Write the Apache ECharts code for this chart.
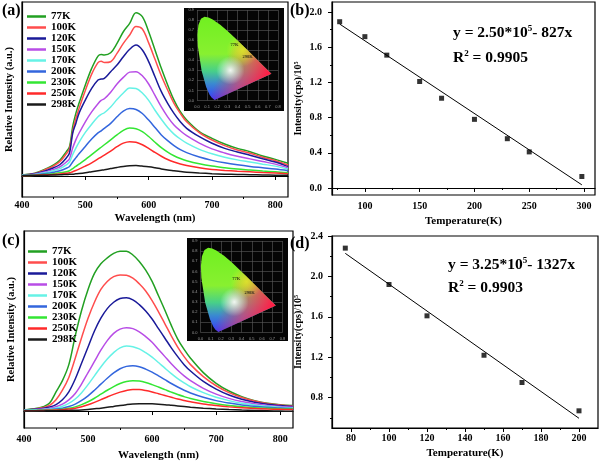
<!DOCTYPE html>
<html><head><meta charset="utf-8">
<script src="https://cdn.jsdelivr.net/npm/echarts@6/dist/echarts.min.js"></script>
<style>html,body{margin:0;padding:0;background:#fff}#c{width:600px;height:463px}</style>
</head><body><div id="c"></div>
<script>
// ---------- data ----------
const temps = ['77K','100K','120K','150K','170K','200K','230K','250K','298K'];
const colors = ['#22a022','#ff4d4d','#1a1a99','#b84de6','#66f2e6','#3366dd','#33e633','#ff2a2a','#1a1a1a'];

// panel (a) spectra
const wlA = [400,420,440,450,460,470,475,480,485,490,500,510,520,525,530,540,550,560,570,580,590,600,610,620,630,640,650,660,680,700,720,740,760,780,800,820];
const a77K  = [0.006,0.016,0.047,0.067,0.097,0.148,0.178,0.30,0.381,0.442,0.554,0.655,0.730,0.740,0.736,0.75,0.807,0.878,0.929,0.994,0.970,0.878,0.767,0.655,0.554,0.462,0.391,0.341,0.27,0.229,0.195,0.168,0.148,0.122,0.101,0.077];
const a100K = [0.006,0.015,0.044,0.062,0.088,0.135,0.165,0.27,0.35,0.41,0.52,0.62,0.69,0.698,0.69,0.695,0.746,0.807,0.858,0.91,0.895,0.81,0.71,0.61,0.523,0.442,0.381,0.33,0.264,0.219,0.185,0.158,0.138,0.114,0.093,0.067];
const a120K = [0.006,0.013,0.035,0.05,0.07,0.11,0.14,0.26,0.32,0.381,0.462,0.533,0.584,0.59,0.594,0.635,0.675,0.726,0.771,0.797,0.767,0.696,0.604,0.513,0.442,0.381,0.33,0.29,0.239,0.199,0.168,0.146,0.126,0.105,0.085,0.057];
const a150K = [0.005,0.011,0.028,0.04,0.056,0.085,0.105,0.17,0.22,0.26,0.33,0.39,0.44,0.46,0.47,0.51,0.56,0.60,0.632,0.635,0.61,0.56,0.49,0.42,0.36,0.31,0.275,0.245,0.2,0.165,0.14,0.12,0.104,0.088,0.072,0.05];
const a170K = [0.004,0.009,0.022,0.032,0.045,0.068,0.085,0.13,0.17,0.205,0.265,0.315,0.36,0.375,0.385,0.42,0.465,0.505,0.535,0.532,0.505,0.46,0.40,0.345,0.295,0.255,0.225,0.2,0.162,0.135,0.114,0.098,0.085,0.072,0.06,0.042];
const a200K = [0.003,0.007,0.016,0.023,0.032,0.047,0.058,0.085,0.11,0.135,0.18,0.225,0.262,0.275,0.29,0.32,0.36,0.395,0.41,0.405,0.38,0.34,0.295,0.25,0.215,0.185,0.16,0.142,0.115,0.095,0.08,0.068,0.058,0.05,0.042,0.032];
const a230K = [0.003,0.005,0.01,0.014,0.019,0.026,0.032,0.045,0.058,0.072,0.10,0.13,0.16,0.175,0.19,0.22,0.25,0.278,0.292,0.288,0.27,0.24,0.205,0.172,0.145,0.123,0.106,0.093,0.074,0.06,0.05,0.042,0.036,0.03,0.025,0.02];
const a250K = [0.002,0.004,0.007,0.009,0.012,0.016,0.019,0.026,0.033,0.042,0.06,0.08,0.104,0.115,0.127,0.152,0.178,0.2,0.209,0.205,0.19,0.168,0.143,0.12,0.1,0.085,0.073,0.064,0.05,0.04,0.034,0.029,0.025,0.021,0.018,0.014];
const a298K = [0.002,0.003,0.005,0.006,0.007,0.009,0.01,0.011,0.013,0.015,0.02,0.026,0.032,0.035,0.038,0.045,0.052,0.058,0.062,0.063,0.06,0.056,0.05,0.043,0.037,0.032,0.027,0.023,0.018,0.014,0.011,0.009,0.008,0.006,0.005,0.004];

// panel (c) spectra
const wlC = [400,420,430,440,450,460,470,480,490,500,510,520,530,540,550,560,570,580,590,600,610,620,630,640,650,660,680,700,720,740,760,780,800,820];
const c77K  = [0.006,0.017,0.027,0.05,0.12,0.19,0.29,0.47,0.63,0.76,0.86,0.92,0.957,0.985,0.998,0.999,0.975,0.935,0.88,0.81,0.72,0.63,0.535,0.45,0.385,0.33,0.24,0.173,0.125,0.09,0.065,0.048,0.04,0.035];
const c100K = [0.006,0.015,0.022,0.035,0.07,0.13,0.21,0.33,0.46,0.58,0.68,0.76,0.81,0.84,0.85,0.848,0.83,0.795,0.75,0.69,0.62,0.545,0.47,0.40,0.34,0.29,0.215,0.158,0.115,0.085,0.063,0.047,0.038,0.032];
const c120K = [0.005,0.012,0.017,0.025,0.04,0.07,0.12,0.2,0.3,0.4,0.5,0.58,0.64,0.68,0.703,0.708,0.695,0.665,0.625,0.575,0.515,0.455,0.395,0.34,0.29,0.25,0.185,0.137,0.1,0.074,0.055,0.042,0.034,0.028];
const c150K = [0.005,0.01,0.013,0.018,0.027,0.043,0.07,0.11,0.17,0.24,0.31,0.38,0.44,0.485,0.512,0.521,0.515,0.495,0.465,0.43,0.385,0.34,0.295,0.255,0.22,0.19,0.142,0.106,0.079,0.059,0.045,0.035,0.028,0.023];
const c170K = [0.004,0.008,0.01,0.013,0.019,0.03,0.048,0.075,0.115,0.165,0.22,0.275,0.325,0.365,0.395,0.406,0.402,0.388,0.365,0.337,0.303,0.268,0.234,0.203,0.176,0.152,0.115,0.086,0.065,0.049,0.038,0.03,0.024,0.02];
const c200K = [0.003,0.005,0.007,0.009,0.012,0.018,0.028,0.043,0.066,0.095,0.13,0.168,0.205,0.238,0.264,0.279,0.283,0.277,0.262,0.243,0.22,0.196,0.172,0.15,0.13,0.113,0.086,0.065,0.05,0.038,0.03,0.024,0.019,0.016];
const c230K = [0.003,0.004,0.005,0.006,0.008,0.011,0.017,0.026,0.04,0.058,0.08,0.105,0.13,0.153,0.172,0.185,0.19,0.187,0.178,0.165,0.15,0.134,0.118,0.103,0.09,0.078,0.06,0.046,0.035,0.027,0.021,0.017,0.014,0.012];
const c250K = [0.002,0.003,0.004,0.005,0.006,0.008,0.012,0.018,0.027,0.039,0.054,0.071,0.088,0.104,0.118,0.129,0.135,0.134,0.128,0.119,0.108,0.097,0.086,0.075,0.066,0.058,0.044,0.034,0.026,0.02,0.016,0.013,0.011,0.009];
const c298K = [0.0,0.001,0.001,0.002,0.002,0.003,0.004,0.005,0.007,0.01,0.014,0.018,0.023,0.029,0.035,0.04,0.044,0.046,0.046,0.045,0.043,0.04,0.036,0.032,0.028,0.024,0.018,0.013,0.009,0.006,0.004,0.002,0.0,-0.002];

// panel (b) and (d): integrated intensity (x10^5) vs temperature
const tempB = [77,100,120,150,170,200,230,250,298];
const intB  = [1.89,1.72,1.51,1.21,1.02,0.78,0.56,0.41,0.13];
const fitB  = {intercept:2.50, slope:-0.00827};
const tempD = [77,100,120,150,170,200];
const intD  = [2.28,1.92,1.61,1.22,0.95,0.67];
const fitD  = {intercept:3.25, slope:-0.01327};

// tick values
const ticksAx = [400,500,600,700,800], minorAx = [450,550,650,750];
const ticksBx = [100,150,200,250,300], minorBx = [75,125,175,225,275];
const ticksBy = [0,0.4,0.8,1.2,1.6,2.0], minorBy = [0.2,0.6,1.0,1.4,1.8];
const ticksDx = [80,100,120,140,160,180,200], minorDx = [90,110,130,150,170,190];
const ticksDy = [0.8,1.2,1.6,2.0,2.4], minorDy = [0.6,1.0,1.4,1.8,2.2];

// CIE 1931 spectral locus (x,y) for the insets
const cieLocus = [[0.1741,0.0050],[0.1440,0.0297],[0.1241,0.0578],[0.0913,0.1327],[0.0454,0.2950],[0.0082,0.5384],[0.0039,0.6548],[0.0139,0.7502],[0.0389,0.8120],[0.0743,0.8338],[0.1142,0.8262],[0.1547,0.8059],[0.2296,0.7543],[0.3016,0.6923],[0.3731,0.6245],[0.4441,0.5547],[0.5125,0.4866],[0.5752,0.4242],[0.6270,0.3725],[0.6915,0.3083],[0.7347,0.2653]];
const cieLabelsA = [[0.37,0.55,'77K'],[0.50,0.43,'298K']];
const cieLabelsC = [[0.35,0.53,'77K'],[0.48,0.39,'298K']];

// ---------- chart ----------
const FF = "'Liberation Serif','Times New Roman',serif";
const specA = [a77K,a100K,a120K,a150K,a170K,a200K,a230K,a250K,a298K];
const specC = [c77K,c100K,c120K,c150K,c170K,c200K,c230K,c250K,c298K];
const lab = {fontFamily:FF, fontWeight:'bold', color:'#000', fontSize:10};
const supRich = {a:{fontFamily:FF,fontWeight:'bold',fontSize:10,color:'#000'}, s:{fontFamily:FF,fontWeight:'bold',fontSize:6,color:'#000',verticalAlign:'top',lineHeight:10}};

function mainX(grid,min,max,ticks,name,gap,margin){
  return {type:'value', gridIndex:grid, position:'bottom', min:min, max:max, splitLine:{show:false},
    axisLine:{show:true,lineStyle:{color:'#000',width:1.2}},
    axisTick:{show:true,length:4,customValues:ticks,lineStyle:{color:'#000'}},
    axisLabel:Object.assign({customValues:ticks,margin:margin},lab),
    name:name, nameLocation:'middle', nameGap:gap,
    nameTextStyle:{fontFamily:FF,fontWeight:'bold',fontSize:11,color:'#000'}};
}
function minorAxis(pos,grid,min,max,vals){
  return {type:'value', gridIndex:grid, position:pos, min:min, max:max, splitLine:{show:false},
    axisLine:{show:false}, axisLabel:{show:false},
    axisTick:{show:true,length:2,customValues:vals,lineStyle:{color:'#000'}}};
}
function mainYnum(grid,min,max,ticks,margin){
  return {type:'value', gridIndex:grid, position:'left', min:min, max:max, splitLine:{show:false},
    axisLine:{show:true,lineStyle:{color:'#000',width:1.2}},
    axisTick:{show:true,length:4,customValues:ticks,lineStyle:{color:'#000'}},
    axisLabel:Object.assign({customValues:ticks,margin:margin,formatter:v=>v.toFixed(1)},lab),
    name:'{a|Intensity(cps)/10}{s|5}', nameLocation:'middle', nameGap:29,
    nameTextStyle:{rich:supRich}};
}
function specY(grid,min,max){
  return {type:'value', gridIndex:grid, position:'left', min:min, max:max, splitLine:{show:false},
    axisLine:{show:true,lineStyle:{color:'#000',width:1.2}}, axisTick:{show:false}, axisLabel:{show:false},
    name:'Relative Intensity (a.u.)', nameLocation:'middle', nameGap:7,
    nameTextStyle:{fontFamily:FF,fontWeight:'bold',fontSize:10.5,color:'#000'}};
}
function insetAxis(grid,max,isX){
  return {type:'value', gridIndex:grid, position:isX?'bottom':'left', min:0, max:max, interval:0.1, z:4,
    axisLine:{show:false}, axisTick:{show:false},
    splitLine:{show:true,lineStyle:{color:'#5a5a5a',width:0.6}},
    axisLabel:{show:true,fontSize:4,color:'#9a9a9a',margin:isX?4:3,formatter:v=>v.toFixed(1)}};
}

const series = [];
temps.forEach((t,i)=>{
  series.push({name:t,type:'line',xAxisIndex:0,yAxisIndex:0,smooth:0.35,showSymbol:false,
    data:wlA.map((w,j)=>[w,specA[i][j]]),lineStyle:{width:1.5,color:colors[i]},itemStyle:{color:colors[i]},z:2});
  series.push({name:t,type:'line',xAxisIndex:4,yAxisIndex:3,smooth:0.35,showSymbol:false,
    data:wlC.map((w,j)=>[w,specC[i][j]]),lineStyle:{width:1.5,color:colors[i]},itemStyle:{color:colors[i]},z:2});
});
function fitLine(f,xs){const a=xs[0],b=xs[xs.length-1];return [[a,f.intercept+f.slope*a],[b,f.intercept+f.slope*b]];}
series.push({type:'line',xAxisIndex:2,yAxisIndex:1,data:fitLine(fitB,tempB),showSymbol:false,lineStyle:{color:'#000',width:1},z:2});
series.push({type:'scatter',xAxisIndex:2,yAxisIndex:1,data:tempB.map((t,i)=>[t,intB[i]]),symbol:'rect',symbolSize:5,itemStyle:{color:'#000'},z:3});
series.push({type:'line',xAxisIndex:6,yAxisIndex:4,data:fitLine(fitD,tempD),showSymbol:false,lineStyle:{color:'#000',width:1},z:2});
series.push({type:'scatter',xAxisIndex:6,yAxisIndex:4,data:tempD.map((t,i)=>[t,intD[i]]),symbol:'rect',symbolSize:5,itemStyle:{color:'#000'},z:3});

function cieRender(params, api){
  const pts = cieLocus.map(p=>api.coord(p));
  const t = api.coord([0,0.84]), b = api.coord([0,0.0]);
  const p1 = api.coord([0.30,0.45]), p2 = api.coord([0.70,0.27]);
  const w = api.coord([0.33,0.30]), yl = api.coord([0.45,0.50]);
  const s = api.size([0.1,0.1]);
  const G = echarts.graphic;
  return {type:'group', children:[
    {type:'polygon',shape:{points:pts},style:{fill:new G.LinearGradient(0,t[1],0,b[1],[
      {offset:0,color:'#70f020'},{offset:0.45,color:'#88f030'},{offset:0.65,color:'#48d088'},{offset:0.8,color:'#3a8ad0'},{offset:1,color:'#3535ff'}],true)}},
    {type:'polygon',shape:{points:pts},style:{fill:new G.LinearGradient(p1[0],p1[1],p2[0],p2[1],[
      {offset:0,color:'rgba(255,40,80,0)'},{offset:0.5,color:'rgba(255,50,90,0.6)'},{offset:1,color:'rgba(255,30,70,1)'}],true)}},
    {type:'polygon',shape:{points:pts},style:{fill:new G.RadialGradient(yl[0],yl[1],s[0]*1.6,[
      {offset:0,color:'rgba(235,240,40,0.75)'},{offset:1,color:'rgba(235,240,40,0)'}],true)}},
    {type:'polygon',shape:{points:pts},style:{fill:new G.RadialGradient(w[0],w[1],s[0]*1.4,[
      {offset:0,color:'rgba(255,255,255,0.9)'},{offset:0.35,color:'rgba(255,255,255,0.55)'},{offset:1,color:'rgba(255,255,255,0)'}],true)}}
  ]};
}
[[8,6,cieLabelsA],[9,7,cieLabelsC]].forEach(([xi,yi,labs])=>{
  series.push({type:'custom',xAxisIndex:xi,yAxisIndex:yi,data:[0],renderItem:cieRender,z:5,silent:true});
  series.push({type:'scatter',xAxisIndex:xi,yAxisIndex:yi,data:labs,symbolSize:0,z:6,silent:true,
    label:{show:true,position:'inside',formatter:p=>p.data[2],fontSize:4.5,fontFamily:FF,fontWeight:'bold',color:'#111'}});
});

const legendBase = {data:temps,orient:'vertical',icon:'rect',itemWidth:19,itemHeight:2.5,itemGap:0,selectedMode:false,padding:0};
const eqRich = {a:{fontFamily:FF,fontWeight:'bold',fontSize:15.5,color:'#000',lineHeight:18},
                s:{fontFamily:FF,fontWeight:'bold',fontSize:9,color:'#000',lineHeight:18,verticalAlign:'top',padding:[0,0,8,0]}};
function txt(left,top,text,size){return {type:'text',left:left,top:top,z:10,style:{text:text,font:'bold '+size+'px '+FF,fill:'#000'}};}
function eq(left,top,text){return {type:'text',left:left,top:top,z:10,style:{text:text,rich:eqRich}};}

const option = {
  animation:false,
  backgroundColor:'#fff',
  grid:[
    {left:22,top:2,width:266,height:195,show:true,borderColor:'#000',borderWidth:1.2},
    {left:332,top:2,width:263,height:193,show:true,borderColor:'#000',borderWidth:1.2},
    {left:24,top:231,width:269,height:197,show:true,borderColor:'#000',borderWidth:1.2},
    {left:332,top:236,width:266,height:192,show:true,borderColor:'#000',borderWidth:1.2},
    {left:197,top:10,width:81,height:90.5},
    {left:200.5,top:241,width:82,height:91.5}
  ],
  xAxis:[
    mainX(0,400,820,ticksAx,'Wavelength (nm)',16,3),
    minorAxis('bottom',0,400,820,minorAx),
    mainX(1,70,310,ticksBx,'Temperature(K)',21,6),
    minorAxis('bottom',1,70,310,minorBx),
    mainX(2,400,820,ticksAx,'Wavelength (nm)',22,6),
    minorAxis('bottom',2,400,820,minorAx),
    mainX(3,70,210,ticksDx,'Temperature(K)',20,5),
    minorAxis('bottom',3,70,210,minorDx),
    insetAxis(4,0.8,true),
    insetAxis(5,0.8,true)
  ],
  yAxis:[
    specY(0,-0.128,1.059),
    mainYnum(1,-0.08,2.114,ticksBy,10),
    minorAxis('left',1,-0.08,2.114,minorBy),
    specY(2,-0.106,1.125),
    mainYnum(3,0.5,2.4,ticksDy,9),
    minorAxis('left',3,0.5,2.4,minorDy),
    insetAxis(4,0.9,false),
    insetAxis(5,0.9,false)
  ],
  legend:[
    Object.assign({left:27,top:11,textStyle:{fontFamily:FF,fontWeight:'bold',fontSize:11,lineHeight:10.4,color:'#000'}},legendBase),
    Object.assign({left:28,top:246,textStyle:{fontFamily:FF,fontWeight:'bold',fontSize:11,lineHeight:9.6,color:'#000'}},legendBase)
  ],
  graphic:[
    {type:'rect',shape:{x:184,y:8,width:100,height:103},style:{fill:'#050505'},z:3},
    {type:'rect',shape:{x:187,y:238,width:101,height:103},style:{fill:'#050505'},z:3},
    txt(2,3,'(a)',16), txt(290,3,'(b)',16), txt(2,233,'(c)',16), txt(290,236,'(d)',16),
    eq(453,24,'{a|y = 2.50*10}{s|5}{a|- 827x}'),
    eq(453,49,'{a|R}{s|2}{a| = 0.9905}'),
    eq(448,256,'{a|y = 3.25*10}{s|5}{a|- 1327x}'),
    eq(448,279,'{a|R}{s|2}{a| = 0.9903}')
  ],
  series:series
};
const chart = echarts.init(document.getElementById('c'),null,{renderer:'canvas'});
chart.setOption(option);
</script></body></html>
